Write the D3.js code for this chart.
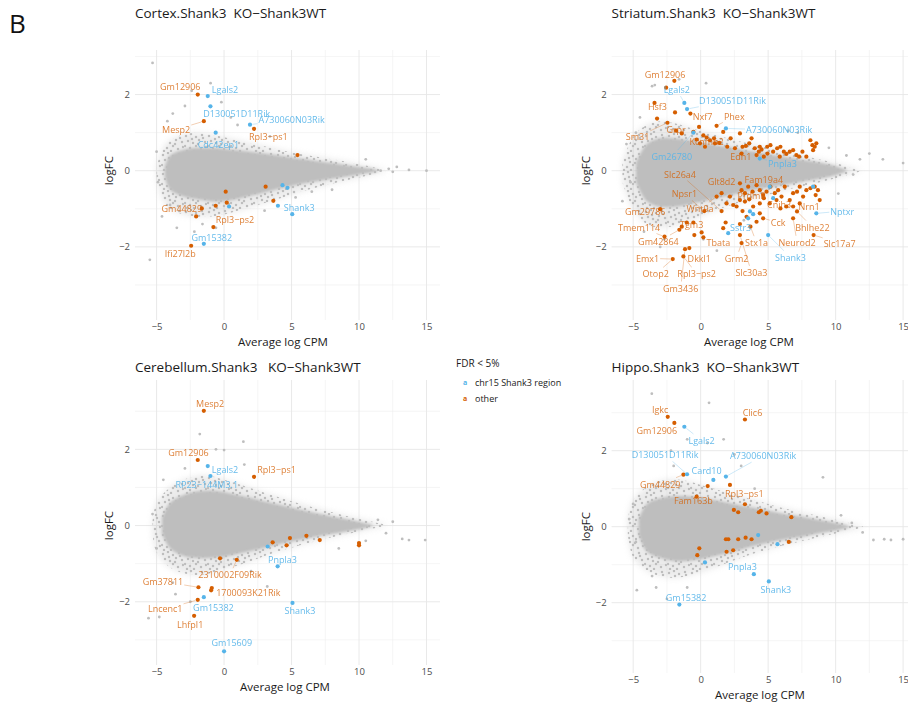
<!DOCTYPE html>
<html>
<head>
<meta charset="utf-8">
<script src="https://cdn.jsdelivr.net/npm/d3@7"></script>
<style>
  body { margin: 0; background: #fff; }
  svg text { font-family: "Open Sans", sans-serif; }
</style>
</head>
<body>
<svg id="chart" width="908" height="704"></svg>
<script>
// axis ticks shared by all four MA plots
const xTicks = [-5, 0, 5, 10, 15];
const xMinor = [-2.5, 2.5, 7.5, 12.5];
const yTicks = [-2, 0, 2];
const yMinor = [-3, -1, 1, 3];

// grey cloud of all genes: dense core + sparse fringe (A = average log CPM, hi/lo = logFC envelope)
const cortexCoreA  = [-4.4, -4, -3, -2, -1, 0, 1, 2, 3, 4, 5, 6, 7, 8, 9, 10, 11, 11.5];
const cortexCoreHi = [0.1, 0.4, 0.55, 0.6, 0.6, 0.58, 0.54, 0.5, 0.45, 0.4, 0.35, 0.3, 0.25, 0.2, 0.15, 0.1, 0.05, 0];
const cortexCoreLo = [-0.15, -0.5, -0.68, -0.75, -0.8, -0.8, -0.74, -0.66, -0.57, -0.48, -0.4, -0.33, -0.27, -0.21, -0.16, -0.1, -0.05, 0];
const cortexFringeA  = [-5, -4.5, -4, -3, -2, -1, 0, 1, 2, 3, 4, 5, 6, 7, 8, 9, 10, 11, 12];
const cortexFringeHi = [0.1, 0.6, 0.8, 0.95, 1.0, 0.95, 0.88, 0.8, 0.72, 0.64, 0.56, 0.48, 0.42, 0.36, 0.3, 0.24, 0.17, 0.1, 0.02];
const cortexFringeLo = [-0.2, -0.8, -1.0, -1.15, -1.2, -1.2, -1.15, -1.05, -0.95, -0.85, -0.74, -0.63, -0.52, -0.43, -0.34, -0.26, -0.18, -0.1, -0.02];

const striatumCoreA  = [-4.8, -4, -3, -2, -1, 0, 1, 2, 3, 4, 5, 6, 7, 8, 9, 10, 10.8];
const striatumCoreHi = [0.2, 0.7, 0.85, 0.85, 0.8, 0.75, 0.68, 0.62, 0.56, 0.5, 0.44, 0.38, 0.32, 0.26, 0.2, 0.12, 0.02];
const striatumCoreLo = [-0.3, -0.8, -0.95, -0.95, -0.9, -0.82, -0.74, -0.66, -0.58, -0.5, -0.44, -0.38, -0.32, -0.26, -0.2, -0.12, -0.02];
const striatumFringeA  = [-5.8, -5, -4, -3, -2, -1, 0, 1, 2, 3, 4, 5, 6, 7, 8, 9, 10, 11, 11.8];
const striatumFringeHi = [0.2, 0.9, 1.2, 1.3, 1.25, 1.15, 1.05, 0.95, 0.85, 0.76, 0.68, 0.6, 0.52, 0.44, 0.36, 0.28, 0.2, 0.1, 0.02];
const striatumFringeLo = [-0.3, -1.0, -1.4, -1.5, -1.45, -1.35, -1.2, -1.05, -0.93, -0.82, -0.72, -0.63, -0.54, -0.45, -0.37, -0.29, -0.2, -0.1, -0.02];

const cerebCoreA  = [-4.6, -4, -3, -2, -1, 0, 1, 2, 3, 4, 5, 6, 7, 8, 9, 10, 11];
const cerebCoreHi = [0.2, 0.6, 0.8, 0.9, 0.92, 0.88, 0.8, 0.72, 0.63, 0.55, 0.47, 0.39, 0.31, 0.24, 0.17, 0.1, 0.02];
const cerebCoreLo = [-0.2, -0.6, -0.8, -0.85, -0.85, -0.82, -0.75, -0.67, -0.58, -0.5, -0.42, -0.35, -0.28, -0.22, -0.16, -0.1, -0.02];
const cerebFringeA  = [-5.3, -5, -4, -3, -2, -1, 0, 1, 2, 3, 4, 5, 6, 7, 8, 9, 10, 11, 12];
const cerebFringeHi = [0.1, 0.6, 1.0, 1.2, 1.3, 1.3, 1.2, 1.1, 0.98, 0.86, 0.75, 0.64, 0.54, 0.44, 0.35, 0.26, 0.18, 0.1, 0.02];
const cerebFringeLo = [-0.2, -0.7, -1.1, -1.25, -1.3, -1.25, -1.15, -1.05, -0.93, -0.8, -0.68, -0.58, -0.48, -0.39, -0.31, -0.23, -0.16, -0.08, -0.02];

const hippoCoreA  = [-4.6, -4, -3, -2, -1, 0, 1, 2, 3, 4, 5, 6, 7, 8, 9, 10, 11];
const hippoCoreHi = [0.2, 0.6, 0.75, 0.8, 0.8, 0.76, 0.7, 0.63, 0.56, 0.49, 0.42, 0.35, 0.29, 0.23, 0.16, 0.1, 0.02];
const hippoCoreLo = [-0.2, -0.65, -0.82, -0.9, -0.9, -0.86, -0.78, -0.7, -0.6, -0.5, -0.42, -0.35, -0.29, -0.23, -0.16, -0.1, -0.02];
const hippoFringeA  = [-5.4, -5, -4, -3, -2, -1, 0, 1, 2, 3, 4, 5, 6, 7, 8, 9, 10, 11, 12];
const hippoFringeHi = [0.2, 0.7, 1.05, 1.2, 1.25, 1.2, 1.1, 1.0, 0.9, 0.8, 0.7, 0.6, 0.5, 0.42, 0.34, 0.26, 0.18, 0.1, 0.02];
const hippoFringeLo = [-0.2, -0.8, -1.15, -1.3, -1.35, -1.3, -1.2, -1.08, -0.95, -0.82, -0.7, -0.6, -0.5, -0.42, -0.34, -0.26, -0.18, -0.1, -0.02];

// isolated grey genes outside the cloud [A, logFC]
const cortexGrey = [[-5.3,2.83],[-5.5,-2.34],[15,0],[13.7,0.02],[12.5,-0.03],[12.2,0.05],[11.6,0],[-4.2,1.3],[-3.8,1.5],[-2.9,1.7],[-3.5,-1.5],[-4.6,-1.2],[-4.0,-0.9],[-2.2,-1.6],[-1.6,-1.4],[-0.6,-1.5],[0.5,1.4],[1.0,1.2],[-0.2,1.8],[3.4,0.9],[5.3,-0.7],[6.5,-0.55],[3.0,-1.05],[-5.0,0.5],[-4.9,-0.3],[8.0,-0.5],[10.5,0.3],[-1.0,2.3],[-2.4,2.1],[12.8,0.1]];
const striatumGrey = [[-5.5,0.7],[-5.2,-0.3],[-5.8,-0.8],[-3.6,2.22],[-3.4,2.25],[-1.6,2.4],[0.4,2.3],[-4.5,1.4],[-4.2,-1.6],[-2.7,-1.8],[10.8,0.4],[11.8,0.3],[12.5,0.45],[13.5,0.3],[15,0.2],[11.3,-0.1],[6.5,1.05],[7.2,1.0],[9.5,0.6],[10.2,-0.6],[-3,-2.0],[-4.8,1.0],[0.2,-1.8],[1.2,-2.1],[3.2,-1.3]];
const cerebGrey = [[-5.6,-2.43],[1.43,2.2],[0,1.98],[12.5,0.1],[13.7,-0.38],[14.9,-0.38],[13.2,-0.35],[11.4,0.15],[12.0,-0.2],[-4.8,-2.4],[-5.3,0.3],[-5.0,-0.6],[-4.5,1.2],[-3.8,-1.5],[-2.5,-2.0],[-1.8,2.4],[-0.6,2.0],[-3.6,-1.8],[2.0,-1.2],[3.2,-1.6],[1.5,1.6],[-2.9,1.5],[8.5,-0.6],[10.5,-0.4]];
const hippoGrey = [[-3.62,3.5],[0.62,3.26],[-4.73,-1.67],[9.06,1.3],[15,-0.33],[-5.3,0.2],[-5.0,0.6],[-4.8,-0.4],[-1.0,2.3],[0.5,2.2],[1.7,2.3],[2.5,1.9],[-2.2,2.0],[-3.6,-1.3],[-3.3,-1.6],[-2.5,-1.9],[11.2,0.1],[12.0,-0.15],[12.8,-0.35],[13.6,-0.33],[14.1,-0.35],[10.4,0.3],[-1.0,-1.6],[3.0,1.6],[-2.0,1.6],[4.0,1.0]];

// FDR < 5% genes, chr15 Shank3 region
const cortexChr15 = [[-1.21,1.96],[-1.01,1.69],[-0.62,1.0],[1.92,1.21],[4.33,-0.38],[4.7,-0.45],[3.99,-0.92],[5.05,-1.14],[0.37,-0.94],[-1.5,-1.92]];
const striatumChr15 = [[-1.21,1.78],[-1.01,1.62],[1.87,1.11],[-0.54,1.0],[4.38,0.32],[5.12,-0.42],[5.37,-0.72],[3.65,-1.07],[3.89,-1.14],[3.52,-1.25],[5.0,-1.69],[8.57,-1.12],[8.33,-0.42],[2.04,-1.64]];
const cerebChr15 = [[-1.21,1.56],[-1.01,1.3],[3.23,-0.55],[3.97,-1.07],[-1.5,-1.88],[5.07,-2.03],[0.0,-3.3]];
const hippoChr15 = [[-1.21,2.63],[-1.01,1.38],[1.87,1.32],[0.94,1.23],[4.26,-0.22],[5.69,-0.46],[0.32,-0.94],[3.94,-1.25],[5.05,-1.44],[-1.58,-2.05]];

// FDR < 5% genes, other
const cortexOther = [[-1.95,2.0],[-1.5,1.3],[2.22,1.10],[5.44,0.41],[3.08,-0.42],[3.65,-0.79],[0.12,-0.55],[0.2,-0.84],[-0.62,-0.92],[-2.07,-1.2],[-1.65,-0.99],[-0.79,-1.48],[-2.44,-1.97]];
const striatumOther = [[-3.42,1.78],[-3.23,1.37],[-2.56,2.18],[-1.95,2.36],[-1.90,1.53],[-0.76,1.50],[-2.46,1.26],[-1.82,1.05],[-1.40,0.98],[-0.54,1.02],[-0.12,1.15],[-0.30,0.82],[-0.05,0.72],[0.20,0.93],[0.44,0.87],[0.69,0.80],[0.99,0.85],[1.18,1.18],[1.38,0.73],[1.67,1.02],[1.97,0.63],[2.22,0.85],[2.54,0.59],[2.91,0.98],[3.10,0.63],[3.35,0.65],[3.60,0.72],[3.77,0.85],[4.01,0.59],[4.31,0.50],[4.51,0.56],[4.68,0.37],[4.93,0.63],[5.17,0.67],[5.37,0.50],[5.67,0.59],[5.91,0.63],[6.16,0.50],[6.35,0.44],[6.60,0.50],[6.85,0.54],[7.09,0.41],[7.29,0.37],[7.54,0.50],[8.13,0.80],[8.28,0.67],[8.45,0.63],[8.57,0.72],[8.33,0.54],[7.83,0.37],[4.95,0.45],[5.86,0.37],[3.03,0.45],[4.14,0.41],[4.38,0.63],[0.32,0.63],[1.06,0.72],
  [2.91,-0.33],[3.03,-0.51],[3.28,-0.59],[3.52,-0.42],[3.84,-0.55],[4.14,-0.38],[4.38,-0.51],[4.63,-0.64],[4.88,-0.55],[5.17,-0.42],[5.49,-0.59],[5.74,-0.51],[5.99,-0.68],[6.23,-0.42],[6.60,-0.77],[6.85,-0.59],[7.14,-0.55],[7.34,-0.42],[7.59,-0.68],[7.83,-0.51],[8.13,-0.46],[8.45,-0.42],[8.69,-0.51],[8.52,-0.64],[8.82,-0.77],[1.92,-0.86],[2.17,-0.68],[2.41,-0.90],[2.66,-0.94],[2.91,-0.77],[3.28,-0.81],[3.60,-0.75],[3.89,-0.94],[4.38,-0.86],[4.68,-0.72],[5.12,-0.86],[5.62,-0.77],[5.91,-0.99],[6.35,-0.94],[6.85,-0.94],[7.34,-0.86],[1.55,-0.59],[1.18,-0.68],
  [1.55,-1.06],[1.85,-1.36],[1.67,-1.51],[2.91,-1.40],[3.10,-1.06],[3.40,-1.21],[3.69,-1.47],[4.14,-1.34],[4.38,-1.12],[4.63,-1.25],[6.85,-1.25],[7.14,-1.07],[-1.58,-1.55],[-1.40,-1.47],[-1.03,-1.36],[-0.54,-1.36],[-0.47,-1.69],[0.07,-1.62],[0.20,-1.75],[-0.84,-2.03],[-1.16,-2.06],[-1.28,-2.25],[-2.07,-2.32],[2.91,-1.69],[3.03,-1.90],[8.37,-1.69],[-2.68,-1.73],[-3.00,-1.01],[0.27,-1.06]];
const cerebOther = [[-1.5,3.01],[-1.95,1.72],[2.22,1.28],[3.6,-0.44],[4.63,-0.52],[4.88,-0.33],[6.1,-0.27],[7.09,-0.38],[10.0,-0.46],[10.0,-0.52],[-0.3,-0.86],[0.94,-0.9],[-1.9,-1.62],[-0.91,-1.64],[-0.96,-1.70],[-1.95,-1.95],[-2.22,-2.37]];
const hippoOther = [[-2.44,2.89],[-1.95,2.73],[3.28,2.82],[-1.28,1.37],[0.52,1.07],[2.17,1.1],[-0.3,0.79],[3.28,0.59],[2.46,0.44],[2.78,0.38],[4.31,0.38],[4.46,0.42],[4.88,0.35],[6.72,0.25],[1.87,-0.33],[2.05,-0.33],[2.78,-0.33],[3.33,-0.29],[3.77,-0.33],[6.53,-0.4],[1.92,-0.66],[2.41,-0.62],[-0.1,-0.57],[-0.25,-0.75]];

// gene labels: [name, label A, label logFC, gene A, gene logFC, group]
const cortexLabels = [
  ["Gm12906",-3.25,2.22,-1.95,2.0,"o"],["Lgals2",0.07,2.13,-1.21,1.96,"c"],
  ["D130051D11Rik",0.94,1.50,-1.01,1.69,"c"],["A730060N03Rik",5.0,1.35,1.92,1.21,"c"],
  ["Mesp2",-3.55,1.08,-1.5,1.3,"o"],["Rpl3\u2212ps1",3.28,0.89,2.22,1.10,"o"],
  ["Cdc42ep1",-0.42,0.70,-0.62,1.0,"c"],["Gm44829",-3.13,-1.0,-1.65,-0.99,"o"],
  ["Rpl3\u2212ps2",0.81,-1.29,-0.79,-1.48,"o"],["Shank3",5.57,-0.96,5.05,-1.14,"c"],
  ["Gm15382",-0.91,-1.75,-1.5,-1.92,"c"],["Ifi27l2b",-3.25,-2.18,-2.44,-1.97,"o"]];
const striatumLabels = [
  ["Gm12906",-2.64,2.53,-1.95,2.36,"o"],["Lgals2",-1.77,2.13,-1.21,1.78,"c"],
  ["D130051D11Rik",2.36,1.85,-1.01,1.62,"c"],["Hsf3",-3.2,1.69,-3.42,1.78,"o"],
  ["Nxf7",0.15,1.43,-0.76,1.50,"o"],["Phex",2.49,1.43,1.18,1.18,"o"],
  ["A730060N03Rik",5.81,1.07,1.87,1.11,"c"],["Grpr",-1.82,1.07,-1.82,1.05,"o"],
  ["Sm31",-4.68,0.89,-2.46,1.26,"o"],["Kcnmb2",0.44,0.76,0.44,0.87,"o"],
  ["Edn1",2.98,0.37,3.03,0.45,"o"],["Gm26780",-2.14,0.37,-0.54,1.0,"c"],
  ["Pnpla3",6.06,0.19,4.38,0.32,"c"],["Slc26a4",-1.53,-0.09,1.55,-1.06,"o"],
  ["Glt8d2",1.55,-0.27,1.55,-0.59,"o"],["Fam19a4",4.68,-0.24,4.14,-0.38,"o"],
  ["Npsr1",-1.21,-0.61,0.27,-1.06,"o"],["Prdm8",3.77,-0.64,3.84,-0.55,"o"],
  ["Gm29786",-4.11,-1.06,-3.0,-1.01,"o"],["Wnt9a",-0.05,-1.0,1.18,-0.68,"o"],
  ["Cnih3",5.81,-0.9,5.91,-0.99,"o"],["Nrn1",8.03,-0.93,8.82,-0.77,"o"],
  ["Nptxr",10.49,-1.06,8.57,-1.12,"c"],["Tmem114",-4.56,-1.48,-2.68,-1.73,"o"],
  ["Tgm3",-0.67,-1.4,-1.03,-1.36,"o"],["Sstr3",2.96,-1.49,3.52,-1.25,"c"],
  ["Cck",5.74,-1.36,4.63,-1.25,"o"],["Bhlhe22",8.28,-1.48,7.14,-1.07,"o"],
  ["Gm42864",-3.13,-1.86,-1.58,-1.55,"o"],["Tbata",1.31,-1.89,0.20,-1.75,"o"],
  ["Stx1a",4.14,-1.89,3.69,-1.47,"o"],["Neurod2",7.14,-1.88,6.85,-1.25,"o"],
  ["Slc17a7",10.3,-1.9,8.37,-1.69,"o"],["Emx1",-3.94,-2.3,-2.07,-2.32,"o"],
  ["Dkkl1",-0.1,-2.3,-0.84,-2.03,"o"],["Grm2",2.66,-2.3,3.03,-1.90,"o"],
  ["Shank3",6.65,-2.27,5.0,-1.69,"c"],["Otop2",-3.33,-2.71,-2.07,-2.32,"o"],
  ["Rpl3\u2212ps2",-0.3,-2.71,-1.28,-2.25,"o"],["Slc30a3",3.77,-2.67,2.91,-1.69,"o"],
  ["Gm3436",-1.48,-3.08,-1.16,-2.06,"o"]];
const cerebLabels = [
  ["Mesp2",-1.03,3.21,-1.5,3.01,"o"],["Gm12906",-2.64,1.91,-1.95,1.72,"o"],
  ["Lgals2",0.07,1.48,-1.21,1.56,"c"],["RP23\u2212144M3.1",-1.28,1.09,-1.01,1.3,"c"],
  ["Rpl3\u2212ps1",3.89,1.46,2.22,1.28,"o"],["Pnpla3",4.33,-0.88,3.97,-1.07,"c"],
  ["2310002F09Rik",0.44,-1.29,0.94,-0.9,"o"],["Gm37811",-4.53,-1.47,-1.9,-1.62,"o"],
  ["1700093K21Rik",1.8,-1.76,-0.91,-1.64,"o"],["Gm15382",-0.79,-2.15,-1.5,-1.88,"c"],
  ["Lncenc1",-4.36,-2.19,-1.95,-1.95,"o"],["Shank3",5.62,-2.24,5.07,-2.03,"c"],
  ["Lhfpl1",-2.51,-2.6,-2.22,-2.37,"o"],["Gm15609",0.57,-3.08,0.0,-3.3,"c"]];
const hippoLabels = [
  ["Igkc",-3.0,3.08,-2.44,2.89,"o"],["Clic6",3.84,3.01,3.28,2.82,"o"],
  ["Gm12906",-3.25,2.54,-1.95,2.73,"o"],["Lgals2",0.07,2.27,-1.21,2.63,"c"],
  ["D130051D11Rik",-2.64,1.89,-1.01,1.38,"c"],["A730060N03Rik",4.63,1.87,1.87,1.32,"c"],
  ["Card10",0.44,1.48,0.94,1.23,"c"],["Gm44829",-3.0,1.12,-1.28,1.37,"o"],
  ["Rpl3\u2212ps1",3.23,0.88,2.17,1.1,"o"],["Fam163b",-0.54,0.7,-0.3,0.79,"o"],
  ["Pnpla3",3.1,-1.06,3.94,-1.25,"c"],["Shank3",5.57,-1.66,5.05,-1.44,"c"],
  ["Gm15382",-1.08,-1.87,-1.58,-2.05,"c"]];

const colChr15 = "#56B4E9", colOther = "#D55E00", colGrey = "#bebebe";

const svg = d3.select("#chart");
const defs = svg.append("defs");

// speckle pattern used to fake the sparse edge of the grey point cloud
const pat = defs.append("pattern").attr("id", "speckle")
  .attr("width", 23).attr("height", 19).attr("patternUnits", "userSpaceOnUse");
[[2,3],[7,1],[12,4],[18,2],[4,8],[9,10],[15,7],[21,9],[1,13],[6,15],[12,13],[17,16],[22,14],[10,18],[3,18],[14,11],[19,5],[8,6]].forEach(d => {
  pat.append("circle").attr("cx", d[0]).attr("cy", d[1]).attr("r", 1.25).attr("fill", colGrey);
});
defs.append("filter").attr("id", "soft").append("feGaussianBlur").attr("stdDeviation", 1.6);
defs.append("filter").attr("id", "softer").append("feGaussianBlur").attr("stdDeviation", 3);

const panels = [
  {id: "cx", title: "Cortex.Shank3  KO\u2212Shank3WT", left: 135, top: 50, w: 305, h: 270, yDom: [-3.92, 3.17], ty: 18,
   core: [cortexCoreA, cortexCoreHi, cortexCoreLo], fringe: [cortexFringeA, cortexFringeHi, cortexFringeLo],
   grey: cortexGrey, chr: cortexChr15, other: cortexOther, labels: cortexLabels, xt: 283},
  {id: "st", title: "Striatum.Shank3  KO\u2212Shank3WT", left: 611.6, top: 50, w: 305, h: 270, yDom: [-3.92, 3.17], ty: 18,
   core: [striatumCoreA, striatumCoreHi, striatumCoreLo], fringe: [striatumFringeA, striatumFringeHi, striatumFringeLo],
   grey: striatumGrey, chr: striatumChr15, other: striatumOther, labels: striatumLabels, xt: 749},
  {id: "cb", title: "Cerebellum.Shank3   KO\u2212Shank3WT", left: 135, top: 380, w: 305, h: 285, yDom: [-3.66, 3.82], ty: 372,
   core: [cerebCoreA, cerebCoreHi, cerebCoreLo], fringe: [cerebFringeA, cerebFringeHi, cerebFringeLo],
   grey: cerebGrey, chr: cerebChr15, other: cerebOther, labels: cerebLabels, xt: 285},
  {id: "hp", title: "Hippo.Shank3  KO\u2212Shank3WT", left: 611.6, top: 380, w: 305, h: 293, yDom: [-3.85, 3.86], ty: 372,
   core: [hippoCoreA, hippoCoreHi, hippoCoreLo], fringe: [hippoFringeA, hippoFringeHi, hippoFringeLo],
   grey: hippoGrey, chr: hippoChr15, other: hippoOther, labels: hippoLabels, xt: 760}
];

panels.forEach(p => {
  const x = d3.scaleLinear().domain([-6.6, 16]).range([p.left, p.left + p.w]);
  const y = d3.scaleLinear().domain(p.yDom).range([p.top + p.h, p.top]);
  const bottom = p.top + p.h;

  defs.append("clipPath").attr("id", "clip-" + p.id)
    .append("rect").attr("x", p.left).attr("y", p.top).attr("width", p.w).attr("height", p.h);

  const g = svg.append("g");

  // grid (theme_minimal)
  const grid = g.append("g");
  grid.selectAll(".vmin").data(xMinor).join("line")
    .attr("x1", d => x(d)).attr("x2", d => x(d)).attr("y1", p.top).attr("y2", bottom)
    .attr("stroke", "#efefef").attr("stroke-width", 0.6);
  grid.selectAll(".hmin").data(yMinor).join("line")
    .attr("x1", p.left).attr("x2", p.left + p.w).attr("y1", d => y(d)).attr("y2", d => y(d))
    .attr("stroke", "#efefef").attr("stroke-width", 0.6);
  grid.selectAll(".vmaj").data(xTicks).join("line")
    .attr("x1", d => x(d)).attr("x2", d => x(d)).attr("y1", p.top).attr("y2", bottom)
    .attr("stroke", "#e6e6e6").attr("stroke-width", 0.9);
  grid.selectAll(".hmaj").data(yTicks).join("line")
    .attr("x1", p.left).attr("x2", p.left + p.w).attr("y1", d => y(d)).attr("y2", d => y(d))
    .attr("stroke", "#e6e6e6").attr("stroke-width", 0.9);

  // axes via d3 axis generators, then stripped to text only
  const xa = g.append("g").attr("transform", `translate(0,${bottom})`)
    .call(d3.axisBottom(x).tickValues(xTicks).tickSize(0).tickPadding(3.5).tickFormat(d => d < 0 ? "\u2212" + (-d) : d));
  const ya = g.append("g").attr("transform", `translate(${p.left},0)`)
    .call(d3.axisLeft(y).tickValues(yTicks).tickSize(0).tickPadding(5).tickFormat(d => d < 0 ? "\u2212" + (-d) : d));
  [xa, ya].forEach(a => {
    a.select(".domain").remove();
    a.selectAll("text").attr("fill", "#4d4d4d").attr("font-size", 9.5)
      .attr("font-family", '"Open Sans", sans-serif');
  });

  g.append("text").attr("x", p.xt).attr("y", bottom + 25.5).attr("text-anchor", "middle")
    .attr("font-size", 11.5).attr("fill", "#1a1a1a").text("Average log CPM");
  g.append("text").attr("transform", `translate(${p.left - 22},${y(0)}) rotate(-90)`)
    .attr("text-anchor", "middle").attr("font-size", 11.5).attr("fill", "#1a1a1a").text("logFC");
  g.append("text").attr("x", p.left).attr("y", p.ty).attr("font-size", 13.5)
    .style("white-space", "pre").attr("fill", "#1a1a1a").text(p.title);

  const plot = g.append("g").attr("clip-path", `url(#clip-${p.id})`);

  const area = d3.area().x(d => x(d[0])).y0(d => y(d[2])).y1(d => y(d[1])).curve(d3.curveCatmullRom);
  const fringe = d3.zip(p.fringe[0], p.fringe[1], p.fringe[2]);
  const core = d3.zip(p.core[0], p.core[1], p.core[2]);
  plot.append("path").attr("d", area(fringe)).attr("fill", colGrey).attr("opacity", 0.3)
    .attr("filter", "url(#softer)");
  plot.append("path").attr("d", area(fringe)).attr("fill", "url(#speckle)");
  plot.append("path").attr("d", area(core)).attr("fill", colGrey).attr("filter", "url(#soft)");

  plot.selectAll(".grey").data(p.grey).join("circle")
    .attr("cx", d => x(d[0])).attr("cy", d => y(d[1])).attr("r", 1.4).attr("fill", colGrey);

  // labels + repel segments
  const segG = plot.append("g");
  const dotG = plot.append("g");
  const labG = g.append("g");

  dotG.selectAll(".oth").data(p.other).join("circle")
    .attr("cx", d => x(d[0])).attr("cy", d => y(d[1])).attr("r", 2.1).attr("fill", colOther);
  dotG.selectAll(".chr").data(p.chr).join("circle")
    .attr("cx", d => x(d[0])).attr("cy", d => y(d[1])).attr("r", 2.1).attr("fill", colChr15);

  p.labels.forEach(([name, lx, ly, px, py, grp]) => {
    const col = grp === "c" ? colChr15 : colOther;
    const t = labG.append("text").attr("x", x(lx)).attr("y", y(ly))
      .attr("text-anchor", "middle").attr("dominant-baseline", "central")
      .attr("font-size", 9).attr("fill", col).attr("opacity", grp === "c" ? 0.9 : 0.78).text(name);
    const b = t.node().getBBox();
    const cx = b.x + b.width / 2, cy = b.y + b.height / 2;
    const tx = x(px), ty = y(py);
    const dx = tx - cx, dy = ty - cy;
    const s = Math.min((b.width / 2 + 1) / Math.abs(dx || 1e-6), (b.height / 2) / Math.abs(dy || 1e-6));
    if (s >= 1) return;
    const len = Math.hypot(dx, dy);
    const sx = cx + dx * s, sy = cy + dy * s;
    const ex = tx - dx / len * 2.5, ey = ty - dy / len * 2.5;
    if (Math.hypot(ex - sx, ey - sy) < 4) return;
    segG.append("line").attr("x1", sx).attr("y1", sy).attr("x2", ex).attr("y2", ey)
      .attr("stroke", col).attr("stroke-width", 0.5).attr("opacity", 0.6);
  });
});

// legend
const leg = svg.append("g");
leg.append("text").attr("x", 456).attr("y", 366.5).attr("font-size", 10).attr("fill", "#1a1a1a").text("FDR < 5%");
[["chr15 Shank3 region", colChr15], ["other", colOther]].forEach(([lab, col], i) => {
  const yy = 382 + i * 16.5;
  leg.append("text").attr("x", 465).attr("y", yy).attr("text-anchor", "middle")
    .attr("dominant-baseline", "central").attr("font-size", 7).attr("font-weight", "bold")
    .attr("fill", col).text("a");
  leg.append("text").attr("x", 475).attr("y", yy).attr("dominant-baseline", "central")
    .attr("font-size", 9).attr("fill", "#1a1a1a").text(lab);
});

svg.append("text").attr("x", 9).attr("y", 33).attr("font-size", 26).attr("fill", "#111").text("B");
</script>
</body>
</html>
